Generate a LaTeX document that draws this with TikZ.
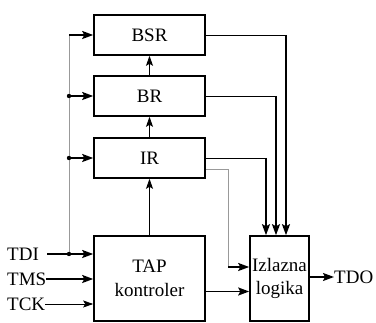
\documentclass[tikz,border=0pt]{standalone}
\usepackage{fontspec}
\setmainfont{Liberation Serif}
\usetikzlibrary{arrows.meta}
\begin{document}
\begin{tikzpicture}[x=1pt, y=-1pt,
        blok/.style={draw=black, line width=1.6pt, minimum width=111pt, minimum height=40pt,
            inner sep=0pt, align=center, font=\fontsize{19}{23.5}\selectfont},
        lbl/.style={inner sep=0pt, font=\fontsize{19}{21}\selectfont},
        tanka/.style={line width=0.8pt, -{Stealth[length=10pt, width=7pt, inset=2pt]}},
        debela/.style={line width=1.6pt, -{Stealth[length=11pt, width=8pt, inset=2pt]}},
        siva/.style={gray!80, line width=0.9pt}]
    \useasboundingbox (0,0) rectangle (376,323);

    % Blokovi
    \node[blok] (BSR) at (149.5,35) {BSR};
    \node[blok] (BR) at (149.5,96) {BR};
    \node[blok] (IR) at (149.5,158) {IR};
    \node[blok, minimum height=85pt] (TAP) at (149.5,278.5) {TAP\\kontroler};
    \node[blok, minimum width=59pt, minimum height=85pt] (IZL) at (279.5,278.5) {Izlazna\\logika};

    % Ulazi i izlaz
    \node[lbl, anchor=west] (TDI) at (7,254) {TDI};
    \node[lbl, anchor=west] (TMS) at (7,279) {TMS};
    \node[lbl, anchor=west] (TCK) at (7,304) {TCK};
    \node[lbl, anchor=west] (TDO) at (334,277) {TDO};

    \draw[debela] ([xshift=8pt]TDI.east) -- (TAP.west |- TDI.east);
    \draw[debela] (TMS.east) -- (TAP.west |- TMS.east);
    \draw[tanka] (TCK.east) -- (TAP.west |- TCK.east);
    \draw[debela] (IZL.east |- TDO.west) -- (TDO.west);

    % Sabirnica TDI
    \coordinate (B0) at (69,254);
    \coordinate (B1) at (69,158);
    \coordinate (B2) at (69,96);
    \coordinate (B3) at (69,35);
    \draw[siva] (B0) -- (B3);
    \draw[debela] (B3) -- (BSR.west);
    \draw[debela] (B2) -- (BR.west);
    \draw[debela] (B1) -- (IR.west);
    \foreach \t in {B0,B1,B2}
        \fill (\t) circle (2.2pt);

    % Lanac registara
    \draw[tanka] (TAP.north) -- (IR.south);
    \draw[tanka] (IR.north) -- (BR.south);
    \draw[tanka] (BR.north) -- (BSR.south);

    % Izlazi registara
    \coordinate (K1) at (286,35);
    \coordinate (K2) at (276,96);
    \coordinate (K3) at (266,158);
    \draw[line width=0.8pt] (BSR.east) -- (K1);
    \draw[line width=0.8pt] (BR.east) -- (K2);
    \draw[line width=0.8pt] (IR.east) -- (K3);
    \draw[debela] (K1) -- (K1 |- IZL.north);
    \draw[debela] (K2) -- (K2 |- IZL.north);
    \draw[debela] (K3) -- (K3 |- IZL.north);

    \coordinate (K4) at (228,169);
    \coordinate (K5) at (228,267);
    \draw[siva] (IR.east |- K4) -- (K4) -- (K5);
    \draw[debela] (K5) -- (IZL.west |- K5);
    \draw[debela] ([yshift=-13pt]TAP.east) -- ([yshift=-13pt]IZL.west);
\end{tikzpicture}
\end{document}
